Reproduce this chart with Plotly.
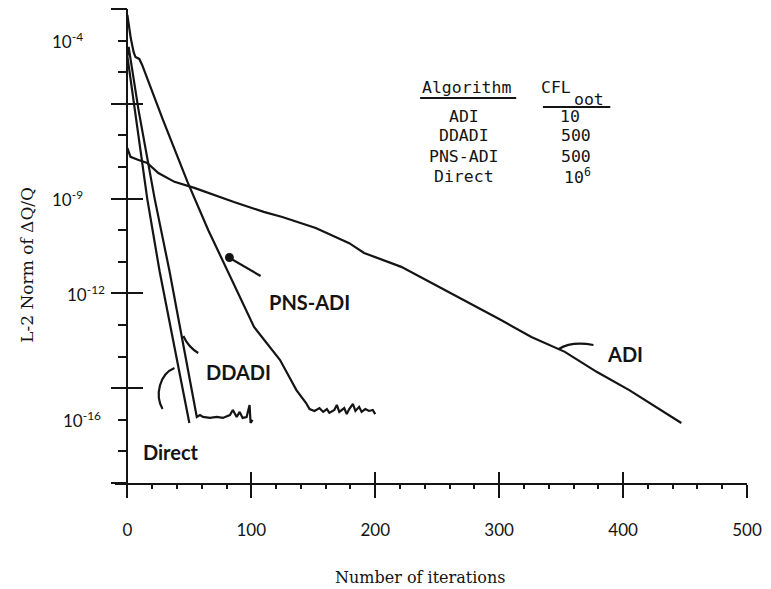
import plotly.graph_objects as go

# ---------------- data (y values are log10 of the L-2 norm) -------------
adi_iter = [0, 2.5, 9, 16, 25, 38, 54, 70, 86, 110, 125, 152, 179, 191, 221, 300, 326, 353, 379, 405, 447]
adi_log = [-7.40, -7.68, -7.78, -7.87, -8.19, -8.47, -8.66, -8.89, -9.11, -9.42, -9.58, -9.93,
           -10.41, -10.72, -11.16, -12.81, -13.38, -13.85, -14.49, -15.06, -16.10]

pns_iter = [0, 2.7, 5, 6.5, 9.6, 11.9, 28.7, 48.5, 65.3, 84.6, 102.2, 123.2, 136.4, 144.2,
            147, 151, 155, 158, 161, 163, 167, 169, 171, 175, 177, 179, 182, 184, 187, 189, 192, 195, 198, 200]
pns_log = [-3.19, -3.92, -4.36, -4.52, -4.58, -4.77, -6.51, -8.47, -10.0, -11.58, -13.06, -14.11, -15.06, -15.47,
           -15.66, -15.72, -15.63, -15.75, -15.66, -15.78, -15.69, -15.53, -15.75, -15.63, -15.82, -15.66,
           -15.50, -15.72, -15.59, -15.75, -15.66, -15.72, -15.69, -15.82]

ddadi_iter = [0, 1, 9, 22, 34, 54.7, 56, 58.6, 61, 66.6, 72.2, 77, 82.7, 85.1, 88.2, 90.6, 93, 96.2, 98.6, 99.4, 101]
ddadi_log = [-4.5, -4.2, -6.2, -9.0, -11.3, -15.53, -15.91, -15.85, -15.91, -15.94, -15.91, -15.94, -15.85,
             -15.69, -15.91, -15.75, -15.94, -15.91, -15.53, -16.10, -16.0]

direct_iter = [0, 6, 16, 26, 50]
direct_log = [-4.5, -6.2, -9.0, -11.3, -16.1]

algorithms = ["ADI", "DDADI", "PNS-ADI", "Direct"]
cfl_opt = ["10", "500", "500", "10<sup>6</sup>"]

x_ticks = [0, 100, 200, 300, 400, 500]
x_minor = [v for v in range(20, 500, 20) if v % 100]
y_major = [-3, -6, -9, -12, -15, -18]
y_decades = list(range(-18, -2))
y_label_vals = [-4, -9, -12, -16]
y_label_text = ["10<sup>-4</sup>", "10<sup>-9</sup>", "10<sup>-12</sup>", "10<sup>-16</sup>"]

# ---------------- geometry helpers (pixel -> paper) ----------------
W, H = 771, 589
L, R, T, B = 115, 18, 9, 106
PW, PH = W - L - R, H - T - B


def xp(px):
    return (px - L) / PW


def yp(py):
    return (H - B - py) / PH


INK = "#141414"
LBL = dict(family="Lato", size=20, color=INK, weight="bold")

fig = go.Figure()
for xs, ls in [(adi_iter, adi_log), (pns_iter, pns_log), (ddadi_iter, ddadi_log), (direct_iter, direct_log)]:
    fig.add_trace(go.Scatter(x=xs, y=[10 ** v for v in ls], mode="lines",
                             line=dict(color=INK, width=2.2), showlegend=False, hoverinfo="skip"))
# helper traces so that the overlay axes (crossing tick marks) get drawn
fig.add_trace(go.Scatter(x=[None], y=[None], xaxis="x2", yaxis="y", showlegend=False, hoverinfo="skip"))
fig.add_trace(go.Scatter(x=[None], y=[None], xaxis="x", yaxis="y2", showlegend=False, hoverinfo="skip"))
fig.add_trace(go.Scatter(x=[None], y=[None], xaxis="x", yaxis="y3", showlegend=False, hoverinfo="skip"))

yaxis_pos = xp(127)
common_y = dict(type="log", range=[-18, -3], showgrid=False, zeroline=False, anchor="free",
                position=yaxis_pos, showticklabels=False, tickcolor=INK, tickwidth=2)

fig.update_layout(
    width=W, height=H, margin=dict(l=L, r=R, t=T, b=B),
    plot_bgcolor="white", paper_bgcolor="white",
    xaxis=dict(range=[-10, 500], showline=True, linecolor=INK, linewidth=2, showgrid=False, zeroline=False,
               ticks="outside", tickvals=x_ticks, ticktext=[str(v) for v in x_ticks], ticklen=13, tickwidth=2,
               tickcolor=INK, minor=dict(tickvals=x_minor, ticks="outside", ticklen=4, tickwidth=2, tickcolor=INK),
               tickfont=dict(family="Lato", size=17, color=INK), ticklabelstandoff=18),
    xaxis2=dict(range=[-10, 500], overlaying="x", anchor="y", side="bottom", showgrid=False, zeroline=False,
                ticks="inside", tickvals=x_ticks, ticklen=11, tickwidth=2, tickcolor=INK, showticklabels=False),
    yaxis=dict(common_y, showline=True, linecolor=INK, linewidth=2, ticks="outside",
               tickvals=[10 ** v for v in y_decades], ticklen=8),
    yaxis2=dict(common_y, overlaying="y", ticks="inside", tickvals=[10 ** v for v in y_major], ticklen=15),
    yaxis3=dict(common_y, overlaying="y", ticks="outside", tickvals=[10 ** v for v in y_major], ticklen=16),
)

ann = []


def note(text, cx, cy, font, **kw):
    d = dict(x=xp(cx), y=yp(cy), xref="paper", yref="paper", text=text, showarrow=False,
             xanchor="center", yanchor="middle", font=font)
    d.update(kw)
    ann.append(d)


# y tick labels (right edges follow the scanned picture)
for v, txt, right in zip(y_label_vals, y_label_text, [85, 85, 107, 103]):
    ann.append(dict(x=xp(right), y=v, xref="paper", yref="y", text=txt, showarrow=False, xanchor="right",
                    yanchor="middle", font=dict(family="Lato", size=17, color=INK)))
# axis titles
note("Number of iterations", 423, 577, dict(family="DejaVu Serif", size=16, color=INK))
note("L-2 Norm of ΔQ/Q", 26, 265, dict(family="DejaVu Serif", size=17, color=INK), textangle=-90)
# curve labels
for txt, cx, cy in [("PNS-ADI", 311, 302), ("DDADI", 240, 372), ("ADI", 630, 354), ("Direct", 172, 452)]:
    note(txt, cx, cy, LBL)
# table
TF = dict(family="DejaVu Sans Mono", size=16.5, color=INK)
note("Algorithm", 470, 88, TF)
note("CFL", 560, 87, TF)
note("oot", 594, 99, TF)
row_y = [116, 136, 157, 176]
col2_x = [574, 580, 580, 582]
for name, cfl, ry, cx in zip(algorithms, cfl_opt, row_y, col2_x):
    note(name, 467, ry, TF)
    note(cfl, cx, ry, TF)
fig.update_layout(annotations=ann)


def path(points):
    return "M " + " L ".join(f"{xp(a):.5f},{yp(b):.5f}" for a, b in points)


def qpath(p0, c, p1):
    return f"M {xp(p0[0]):.5f},{yp(p0[1]):.5f} Q {xp(c[0]):.5f},{yp(c[1]):.5f} {xp(p1[0]):.5f},{yp(p1[1]):.5f}"


shapes = []
lw = dict(color=INK, width=2.2)
# underlines in table
shapes.append(dict(type="path", xref="paper", yref="paper", path=path([(423, 98), (520, 98)]), line=lw))
shapes.append(dict(type="path", xref="paper", yref="paper", path=path([(547, 107), (615, 107)]), line=lw))
# leader marks
shapes.append(dict(type="path", xref="paper", yref="paper", path=path([(229, 257), (262, 276)]), line=lw))
shapes.append(dict(type="circle", xref="paper", yref="paper", x0=xp(226), x1=xp(235), y0=yp(262), y1=yp(253),
                   fillcolor=INK, line=dict(width=0)))
shapes.append(dict(type="path", xref="paper", yref="paper", path=qpath((184, 336), (189, 347), (199, 353)), line=lw))
shapes.append(dict(type="path", xref="paper", yref="paper",
                   path=f"M {xp(175):.5f},{yp(368):.5f} C {xp(160):.5f},{yp(374):.5f} {xp(155):.5f},{yp(395):.5f} {xp(163):.5f},{yp(409):.5f}",
                   line=lw))
shapes.append(dict(type="path", xref="paper", yref="paper", path=qpath((563, 349), (576, 341), (598, 345)), line=lw))
fig.update_layout(shapes=shapes)

fig.write_html("out.html")
